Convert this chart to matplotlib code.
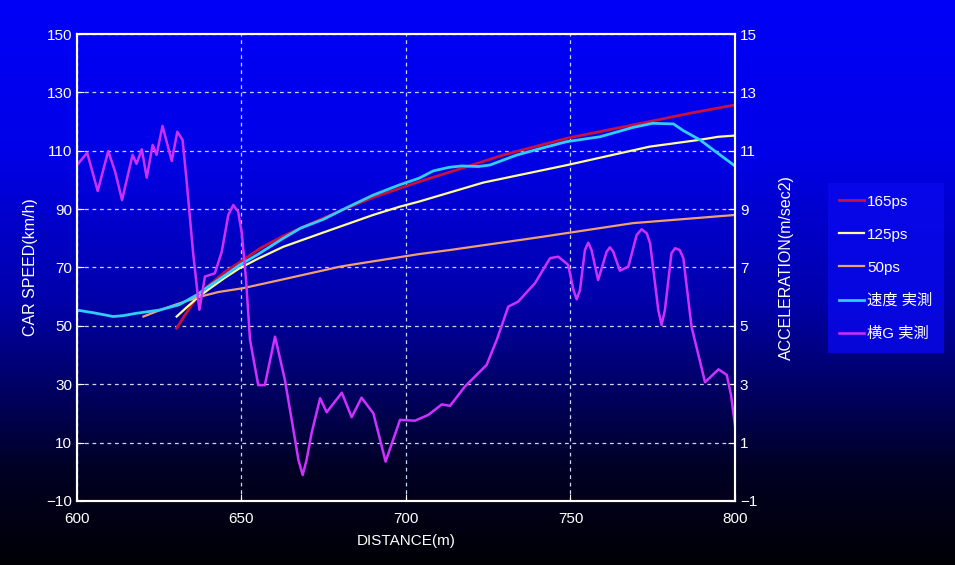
import numpy as np
import matplotlib
matplotlib.use("Agg")
import matplotlib.pyplot as plt

plt.rcParams['font.family'] = ['Liberation Sans Narrow', 'Liberation Sans', 'Noto Sans CJK JP', 'DejaVu Sans']

# speed curves (km/h) vs distance (m)
x165 = [630.3, 633, 636.5, 640, 645, 650.5, 656, 662.7, 670, 680, 690, 704, 717, 730, 749, 760, 774, 787, 800]
v165 = [49.2, 54, 60, 63.8, 68.5, 72.6, 76.8, 80.8, 84.5, 89.4, 94, 99.4, 104, 108.7, 114.3, 116.8, 120, 123, 125.7]

x125 = [630.3, 633, 636.5, 640, 645, 649.5, 655, 662.7, 674.9, 690, 698, 704, 723.5, 749, 774, 789, 795, 800]
v125 = [53.2, 56, 59.5, 62.5, 66.5, 69.8, 73, 77.1, 82, 88, 90.8, 92.6, 99.1, 105.1, 111.4, 113.7, 114.8, 115.2]

x50 = [620.2, 625, 630, 637.4, 643, 650.4, 661.7, 680, 686, 704, 713.4, 740.7, 769, 800]
v50 = [53.2, 55.3, 57.3, 60, 61.6, 62.9, 65.7, 70.3, 71.4, 74.6, 76, 80.4, 85.2, 88]

x_meas = [600, 605, 611, 614, 618, 625, 631, 636.4, 640, 645, 649.5, 655, 662.7, 668, 674.9, 682, 690, 698,
          704, 708.3, 713, 716.9, 722, 725.5, 733.6, 741, 748.8, 759, 769, 775, 781.3, 784.3, 789.4, 793.4, 800]
v_meas = [55.4, 54.5, 53.2, 53.5, 54.3, 55.4, 57.2, 60.6, 63.5, 67.3, 70.9, 74.5, 80, 83.5, 86.5, 90.5, 94.8, 98.3,
          100.6, 103.1, 104.3, 104.8, 104.6, 105.1, 108.5, 110.8, 113.1, 114.8, 118.0, 119.4, 119.2, 116.9, 113.7, 110.3, 104.8]

# lateral G (m/sec2) vs distance (m)
x_g = [600, 603.1, 606.3, 609.5, 611.6, 613.7, 616.9, 618.1, 619.7, 621.2, 623.0, 624.2, 626.0, 628.8, 630.5,
       632.1, 633.3, 635.3, 637.2, 638.9, 641.9, 644.0, 646.0, 647.5, 649.0, 650.1, 651.4, 652.6, 655.1, 657.1,
       660.2, 663.2, 666.3, 667.3, 668.6, 669.8, 671.3, 673.9, 675.9, 680.5, 683.5, 686.5, 690.1, 693.8, 698.2,
       702.7, 706.8, 710.9, 713.4, 717.9, 724.5, 727.6, 731.1, 734.1, 739.2, 743.8, 746.3, 749.3, 750.9, 751.9,
       752.9, 754.4, 755.4, 756.4, 758.4, 761.0, 762.0, 763.0, 765.0, 767.6, 770.1, 771.6, 773.2, 774.2, 776.7,
       777.7, 778.7, 780.7, 781.8, 783.2, 784.3, 786.8, 790.9, 795.0, 797.5, 798.8, 800]
g_meas = [10.51, 10.93, 9.62, 10.99, 10.28, 9.31, 10.86, 10.55, 11.05, 10.08, 11.2, 10.86, 11.85, 10.65, 11.65,
          11.37, 10.0, 7.5, 5.55, 6.69, 6.80, 7.54, 8.8, 9.14, 8.91, 8.17, 6.57, 4.52, 2.97, 2.97,
          4.63, 3.15, 1.09, 0.41, -0.11, 0.41, 1.32, 2.52, 2.04, 2.71, 1.87, 2.54, 2.00, 0.35, 1.78,
          1.75, 1.95, 2.31, 2.26, 2.92, 3.66, 4.52, 5.66, 5.83, 6.46, 7.32, 7.37, 7.09, 6.23, 5.91,
          6.23, 7.6, 7.85, 7.6, 6.57, 7.54, 7.69, 7.54, 6.89, 7.03, 8.11, 8.31, 8.17, 7.83, 5.54,
          5.03, 5.54, 7.49, 7.66, 7.6, 7.32, 4.97, 3.07, 3.51, 3.32, 2.63, 1.6]

fig = plt.figure(figsize=(9.55, 5.65), dpi=100)

# background gradient blue -> black
bg = fig.add_axes([0, 0, 1, 1], zorder=-10)
yy = np.arange(565)
blue = np.interp(yy, [0, 150, 300, 400, 470, 565], [248, 232, 170, 90, 35, 5]) / 255.0
img = np.zeros((565, 1, 3))
img[:, 0, 2] = blue
bg.imshow(img, aspect='auto', extent=[0, 1, 0, 1])
bg.axis('off')

ax = fig.add_axes([0.0806, 0.1133, 0.689, 0.8265])
ax.patch.set_alpha(0)
ax2 = ax.twinx()
ax2.patch.set_alpha(0)

l1, = ax.plot(x165, v165, color='#c8103c', lw=2, label='165ps')
l2, = ax.plot(x125, v125, color='#ffff99', lw=1.6, label='125ps')
l3, = ax.plot(x50, v50, color='#f0a070', lw=1.6, label='50ps')
l4, = ax.plot(x_meas, v_meas, color='#33ccff', lw=2, label='速度 実測')
l5, = ax2.plot(x_g, g_meas, color='#d030ff', lw=1.8, label='横G 実測')

ax.set_xlim(600, 800)
ax.set_ylim(-10, 150)
ax2.set_ylim(-1, 15)
ax.set_xticks([600, 650, 700, 750, 800])
ax.set_yticks(range(-10, 151, 20))
ax2.set_yticks(range(-1, 16, 2))

ax.grid(True, color='#c8d8ff', linestyle=(0, (3, 3)), linewidth=0.9)

for a in (ax, ax2):
    for s in a.spines.values():
        s.set_color('white')
        s.set_linewidth(1.5)
    a.tick_params(colors='white', direction='in', length=5, labelsize=11)
ax.tick_params(axis='x', pad=8)

ax.set_xlabel('DISTANCE(m)', color='white', fontsize=11, labelpad=6)
ax.set_ylabel('CAR SPEED(km/h)', color='white', fontsize=11.5, labelpad=6)
ax2.set_ylabel('ACCELERATION(m/sec2)', color='white', fontsize=11.5, labelpad=16)

leg = fig.legend(handles=[l1, l2, l3, l4, l5], loc='upper left', bbox_to_anchor=(0.867, 0.676),
                 frameon=True, fontsize=11, labelspacing=1.25, handlelength=1.6, handletextpad=0.2,
                 borderpad=0.75, borderaxespad=0)
leg.get_frame().set_facecolor('#0808ee')
leg.get_frame().set_edgecolor('none')
leg.get_frame().set_boxstyle('square', pad=0)
for t in leg.get_texts():
    t.set_color('white')

fig.savefig('out.png', dpi=100)
